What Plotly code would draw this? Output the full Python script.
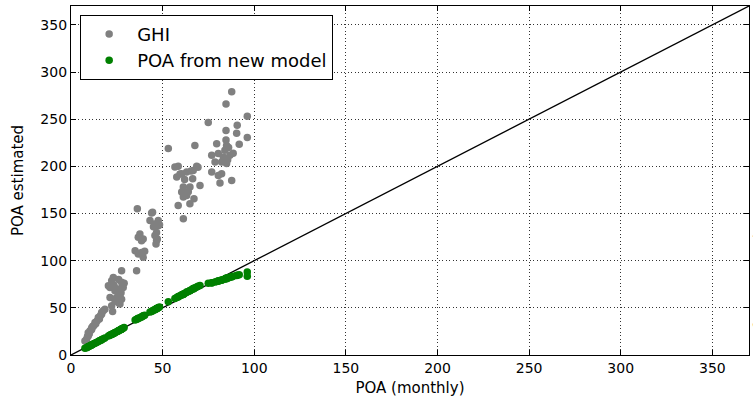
import plotly.graph_objects as go

# POA (monthly) values on the x axis, shared by both series
poa_monthly = [
    7.6, 8.5, 9.0, 9.4, 9.4, 10.0, 10.4, 11.0, 11.3, 11.3, 11.9, 12.4, 13.1, 13.5, 14.2, 14.9,
    15.5, 16.0, 16.7, 16.7, 17.6, 18.5,
    20.4, 21.3, 21.3, 22.2, 22.2, 22.7, 23.1, 23.5, 24.0, 24.0, 24.9, 25.5, 25.8, 26.0, 26.7,
    26.7, 27.3, 27.6, 27.6, 27.6, 28.0, 28.5, 29.0,
    35.0, 35.8, 36.2, 36.7, 36.7, 37.6, 38.5, 38.5, 39.4, 39.4, 40.2, 43.1, 44.0, 44.5, 45.0,
    45.8, 45.8, 46.4, 46.7, 46.7, 47.1, 47.6, 47.6, 48.3,
    53.1, 56.7, 57.7, 58.5, 58.5, 59.5, 60.4, 60.4, 61.3, 61.3, 61.3, 62.0, 63.1, 63.1, 64.0,
    64.9, 64.9, 65.5, 66.4, 66.7, 67.1, 67.6, 68.6, 69.3, 70.4,
    74.9, 76.8, 76.8, 78.6, 79.5, 80.4, 80.4, 81.3, 82.2, 82.2, 83.1, 84.0, 84.6, 84.6, 84.6,
    84.9, 84.9, 85.5, 86.0, 86.7, 87.7, 87.7, 88.5, 90.4, 90.7, 91.8, 96.2, 96.2,
]

ghi = [
    14.9, 16.6, 19.5, 20.2, 23.7, 22.5, 25.8, 26.5, 27.3, 29.0, 30.5, 31.0, 34.4, 33.2, 36.0, 39.7,
    38.2, 41.5, 43.3, 45.0, 46.8, 48.6,
    73.4, 61.0, 71.6, 78.7, 52.1, 46.0, 82.2, 74.0, 68.0, 57.4, 61.0, 70.0, 55.6, 80.0, 62.8,
    54.0, 66.0, 89.4, 77.0, 59.2, 73.0, 71.6, 76.0,
    110.6, 89.4, 155.0, 107.0, 124.8, 128.4, 108.8, 121.0, 123.0, 103.5, 110.0, 142.5, 150.5, 151.4, 136.0,
    139.0, 126.6, 117.8, 121.3, 130.0, 123.0, 137.0, 142.5, 138.0,
    218.8, 199.3, 188.6, 200.0, 158.5, 192.0, 192.2, 172.7, 178.0, 167.4, 144.4, 186.0, 194.0, 169.1, 173.0,
    178.0, 160.3, 195.0, 186.9, 195.7, 165.6, 222.0, 200.0, 199.0, 179.8,
    246.5, 211.7, 194.0, 204.6, 224.0, 213.5, 190.4, 182.3, 204.6, 192.2, 209.9, 217.0, 228.0, 238.0, 266.0,
    222.0, 202.9, 207.0, 220.0, 211.7, 185.0, 279.0, 214.0, 235.0, 243.6, 223.4, 253.0, 230.5,
]

poa_new_model = [
    7.2, 7.8, 8.3, 8.7, 8.9, 9.4, 9.8, 10.3, 10.6, 10.8, 11.3, 11.8, 12.5, 12.9, 13.6, 14.4,
    15.0, 15.5, 16.3, 16.2, 17.2, 18.1,
    20.1, 20.9, 21.2, 21.8, 21.9, 22.3, 22.8, 23.1, 23.6, 23.8, 24.6, 25.2, 25.5, 25.9, 26.4,
    26.5, 27.1, 27.6, 27.5, 27.4, 28.0, 28.4, 29.2,
    37.0, 37.8, 38.2, 38.6, 38.9, 39.6, 40.5, 40.3, 41.4, 41.6, 42.2, 45.5, 46.2, 46.8, 47.4,
    48.0, 48.3, 48.7, 49.0, 49.3, 49.6, 50.2, 50.0, 50.8,
    56.4, 59.8, 61.0, 62.0, 61.6, 62.8, 63.9, 63.5, 64.8, 64.5, 64.2, 65.3, 66.7, 66.4, 67.4,
    68.4, 68.0, 69.0, 70.0, 70.4, 70.2, 71.3, 72.2, 72.8, 73.6,
    76.0, 76.5, 76.2, 77.5, 78.0, 78.6, 78.3, 78.9, 79.4, 79.2, 80.0, 80.6, 81.0, 81.3, 81.5,
    81.2, 80.9, 81.6, 82.0, 82.4, 82.8, 83.2, 83.4, 84.4, 84.6, 85.0, 83.5, 88.0,
]

identity_line = [0, 370]
tick_values = [0, 50, 100, 150, 200, 250, 300, 350]

FONT = "DejaVu Sans"

fig = go.Figure()
fig.add_trace(go.Scatter(
    x=identity_line, y=identity_line, mode="lines",
    line=dict(color="black", width=1.3), showlegend=False, hoverinfo="skip",
))
fig.add_trace(go.Scatter(
    x=poa_monthly, y=ghi, mode="markers", name="GHI",
    marker=dict(color="#808080", size=7.5, line=dict(width=0)),
))
fig.add_trace(go.Scatter(
    x=poa_monthly, y=poa_new_model, mode="markers", name="POA from new model",
    marker=dict(color="#008000", size=7.5, line=dict(width=0)),
))

axis_common = dict(
    range=[0, 370], tickvals=tick_values, showgrid=True, gridcolor="#333333",
    griddash="1px,2.5px", gridwidth=1, zeroline=False, showline=True, linecolor="black",
    linewidth=1.3, mirror="allticks", ticks="inside", ticklen=5, tickcolor="black",
    tickfont=dict(family=FONT, size=14, color="black"),
)

fig.update_layout(
    width=753, height=402,
    margin=dict(l=71, r=4, t=6, b=47, autoexpand=False),
    paper_bgcolor="white", plot_bgcolor="white",
    font=dict(family=FONT, color="black"),
    xaxis=dict(**axis_common, title=dict(text="POA (monthly)", standoff=7,
                                         font=dict(family=FONT, size=15))),
    yaxis=dict(**axis_common, title=dict(text="POA estimated", standoff=13,
                                         font=dict(family=FONT, size=15))),
    legend=dict(
        x=0.0135, y=0.975, xanchor="left", yanchor="top",
        bgcolor="white", bordercolor="black", borderwidth=1,
        font=dict(family=FONT, size=18, color="black"),
        itemwidth=46, tracegroupgap=0,
    ),
    showlegend=True,
)

fig.add_annotation(
    text="Performance ratio", xref="paper", yref="y", x=1, y=70,
    xanchor="left", yanchor="middle", xshift=0, textangle=-90, showarrow=False,
    font=dict(family=FONT, size=14, color="black"),
)

fig.write_html("out.html")
